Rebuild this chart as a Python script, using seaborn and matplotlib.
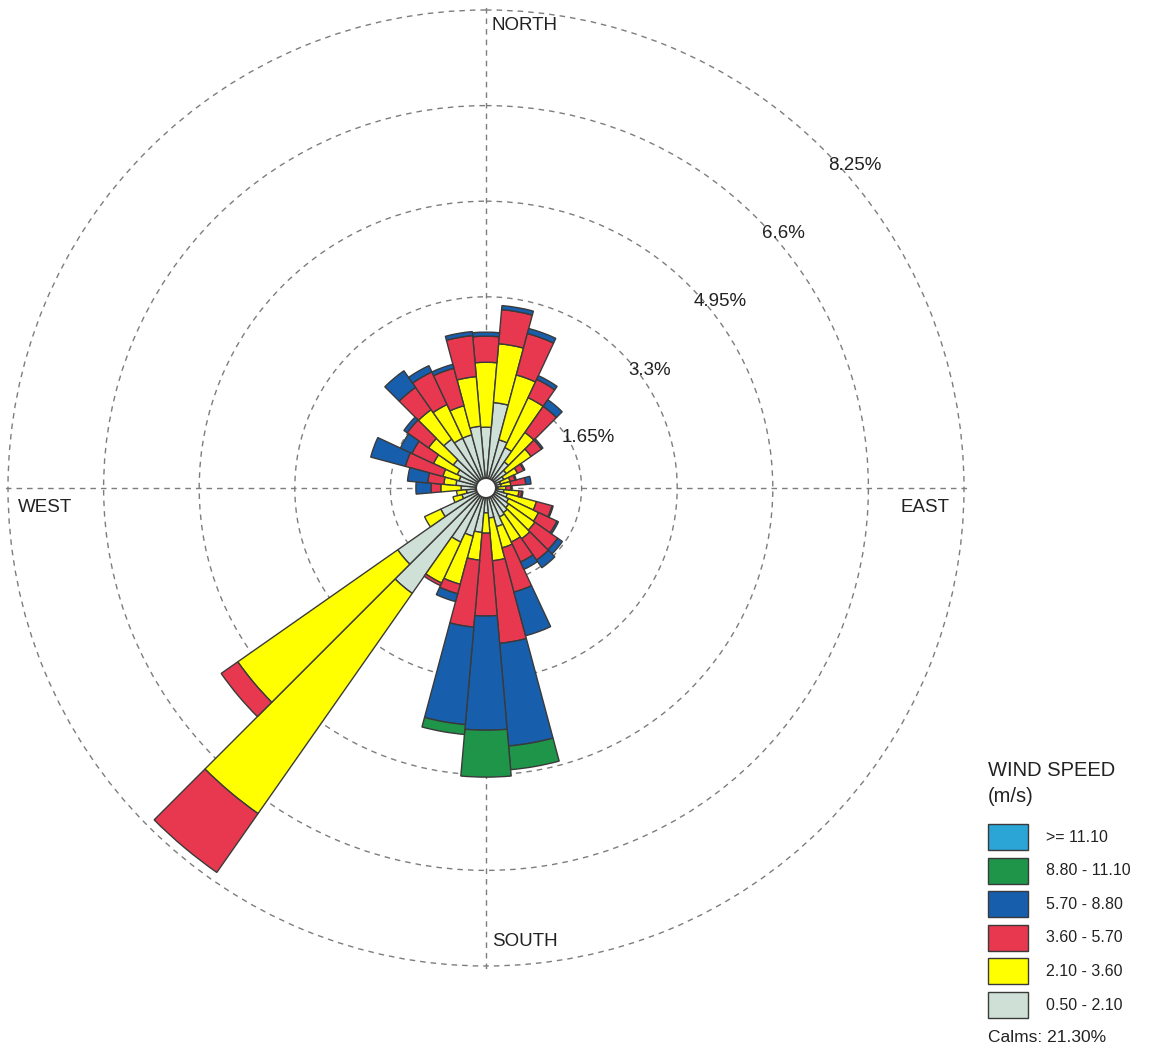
import numpy as np
import matplotlib
matplotlib.use("Agg")
import matplotlib.pyplot as plt
import seaborn as sns
from matplotlib.patches import Circle, Rectangle

# Wind-direction sectors (degrees, blowing from), 10-degree bins
directions = np.arange(0, 360, 10)

# Frequency (%) per speed class and sector
speed_0p5_2p1 = [0.88, 1.31, 0.69, 0.60, 0.38, 0.26, 0.17, 0.09, 0.09, 0.03, 0.14, 0.21,
                 0.26, 0.31, 0.35, 0.38, 0.52, 0.35, 0.26, 0.60, 0.69, 0.86, 2.05, 1.69,
                 0.69, 0.26, 0.17, 0.26, 0.35, 0.31, 0.38, 0.52, 0.86, 0.78, 0.78, 0.90]
speed_2p1_3p6 = [1.12, 1.02, 1.16, 0.95, 0.62, 0.52, 0.26, 0.17, 0.17, 0.14, 0.26, 0.52,
                 0.57, 0.55, 0.55, 0.48, 0.38, 0.74, 0.35, 0.48, 0.86, 0.78, 4.64, 3.37,
                 0.31, 0.16, 0.17, 0.35, 0.21, 0.29, 0.45, 0.52, 0.62, 0.64, 0.52, 0.86]
speed_3p6_5p7 = [0.45, 0.59, 0.74, 0.35, 0.55, 0.22, 0.12, 0.09, 0.26, 0.09, 0.05, 0.28,
                 0.35, 0.48, 0.45, 0.38, 0.79, 1.43, 1.43, 1.16, 0.17, 0.05, 1.24, 0.35,
                 0.00, 0.00, 0.00, 0.17, 0.28, 0.67, 0.41, 0.45, 0.47, 0.62, 0.67, 0.71]
speed_5p7_8p8 = [0.07, 0.07, 0.09, 0.07, 0.14, 0.03, 0.02, 0.02, 0.09, 0.02, 0.02, 0.02,
                 0.03, 0.10, 0.16, 0.14, 0.78, 1.78, 1.97, 1.69, 0.14, 0.00, 0.00, 0.00,
                 0.00, 0.00, 0.00, 0.26, 0.35, 0.62, 0.22, 0.07, 0.35, 0.12, 0.07, 0.07]
speed_8p8_11p1 = [0.00] * 17 + [0.41, 0.81, 0.17] + [0.00] * 16
speed_ge_11p1 = [0.00] * 36

speed_classes = [speed_0p5_2p1, speed_2p1_3p6, speed_3p6_5p7,
                 speed_5p7_8p8, speed_8p8_11p1, speed_ge_11p1]
speed_labels = ["0.50 - 2.10", "2.10 - 3.60", "3.60 - 5.70",
                "5.70 - 8.80", "8.80 - 11.10", ">= 11.10"]
speed_colors = ["#cfe1d6", "#ffff00", "#e8384f", "#175ead", "#1e9549", "#2ba4d6"]

ring_values = [1.65, 3.3, 4.95, 6.6, 8.25]
ring_labels = ["1.65%", "3.3%", "4.95%", "6.6%", "8.25%"]
compass_labels = ["NORTH", "EAST", "SOUTH", "WEST"]
calms_pct = 21.30
hole = 0.17          # radius of the calm circle, in % units
r_max = 8.32

sns.set_theme(style="white")
plt.rcParams["font.family"] = ["Liberation Sans", "DejaVu Sans"]

W, H = 1149, 1048
fig = plt.figure(figsize=(W / 100, H / 100), dpi=100)
fig.patch.set_facecolor("white")
TXT = "#222222"
EDGE = "#3a3a3a"


def fx(px):
    return px / W


def fy(py):
    return 1 - py / H


# polar axes centred on the rose
cx, cy = 486, 488
R = 478 * r_max / 8.25
ax = fig.add_axes([fx(cx - R), (H - cy - R) / H, 2 * R / W, 2 * R / H], projection="polar")
ax.set_theta_zero_location("N")
ax.set_theta_direction(-1)
ax.set_ylim(0, r_max)
ax.spines["polar"].set_visible(False)
ax.set_facecolor("none")
ax.set_axisbelow(True)
ax.set_rgrids(ring_values, labels=[""] * len(ring_values))
ax.set_thetagrids([0, 90, 180, 270], labels=[""] * 4)
ax.grid(True, color="#7d7d7d", linestyle=(0, (4.0, 3.6)), linewidth=1.0)

theta = np.deg2rad(directions)
width = np.deg2rad(10)
bottom = np.full(len(directions), hole)
for vals, col in zip(speed_classes, speed_colors):
    vals = np.asarray(vals)
    m = vals > 0
    if m.any():
        ax.bar(theta[m], vals[m], width=width, bottom=bottom[m], color=col,
               edgecolor=EDGE, linewidth=1.0, align="center", zorder=3)
    bottom = bottom + vals

ax.add_patch(Circle((0.5, 0.5), hole / (2 * r_max), transform=ax.transAxes,
                    facecolor="white", edgecolor=EDGE, linewidth=1.3, zorder=5))

# compass labels
fig.text(fx(492), fy(26), compass_labels[0], fontsize=13.5, color=TXT, ha="left", va="center")
fig.text(fx(950), fy(507), compass_labels[1], fontsize=13.5, color=TXT, ha="right", va="center")
fig.text(fx(492), fy(941), compass_labels[2], fontsize=13.5, color=TXT, ha="left", va="center")
fig.text(fx(18), fy(507), compass_labels[3], fontsize=13.5, color=TXT, ha="left", va="center")

# ring labels
ring_label_pos = [(588, 437), (650, 371), (720, 302), (783, 234), (855, 166)]
for lab, (px, py) in zip(ring_labels, ring_label_pos):
    fig.text(fx(px), fy(py), lab, fontsize=13.5, color=TXT, ha="center", va="center")

# legend: title, swatches (fastest class on top) and calms
fig.text(fx(988), fy(770), "WIND SPEED", fontsize=14.5, color=TXT, ha="left", va="center")
fig.text(fx(988), fy(797), "(m/s)", fontsize=14.5, color=TXT, ha="left", va="center")
row0, row_step = 837, 33.6
for i, (lab, col) in enumerate(zip(speed_labels[::-1], speed_colors[::-1])):
    yc = row0 + i * row_step
    fig.add_artist(Rectangle((fx(988), fy(yc + 13)), 40 / W, 26 / H,
                             transform=fig.transFigure, facecolor=col,
                             edgecolor=EDGE, linewidth=1.0))
    fig.text(fx(1046), fy(yc), lab, fontsize=11.5, color=TXT, ha="left", va="center")

fig.text(fx(988), fy(1038), f"Calms: {calms_pct:.2f}%", fontsize=12.5, color=TXT,
         ha="left", va="center")

fig.savefig("out.png", dpi=100, facecolor="white")
